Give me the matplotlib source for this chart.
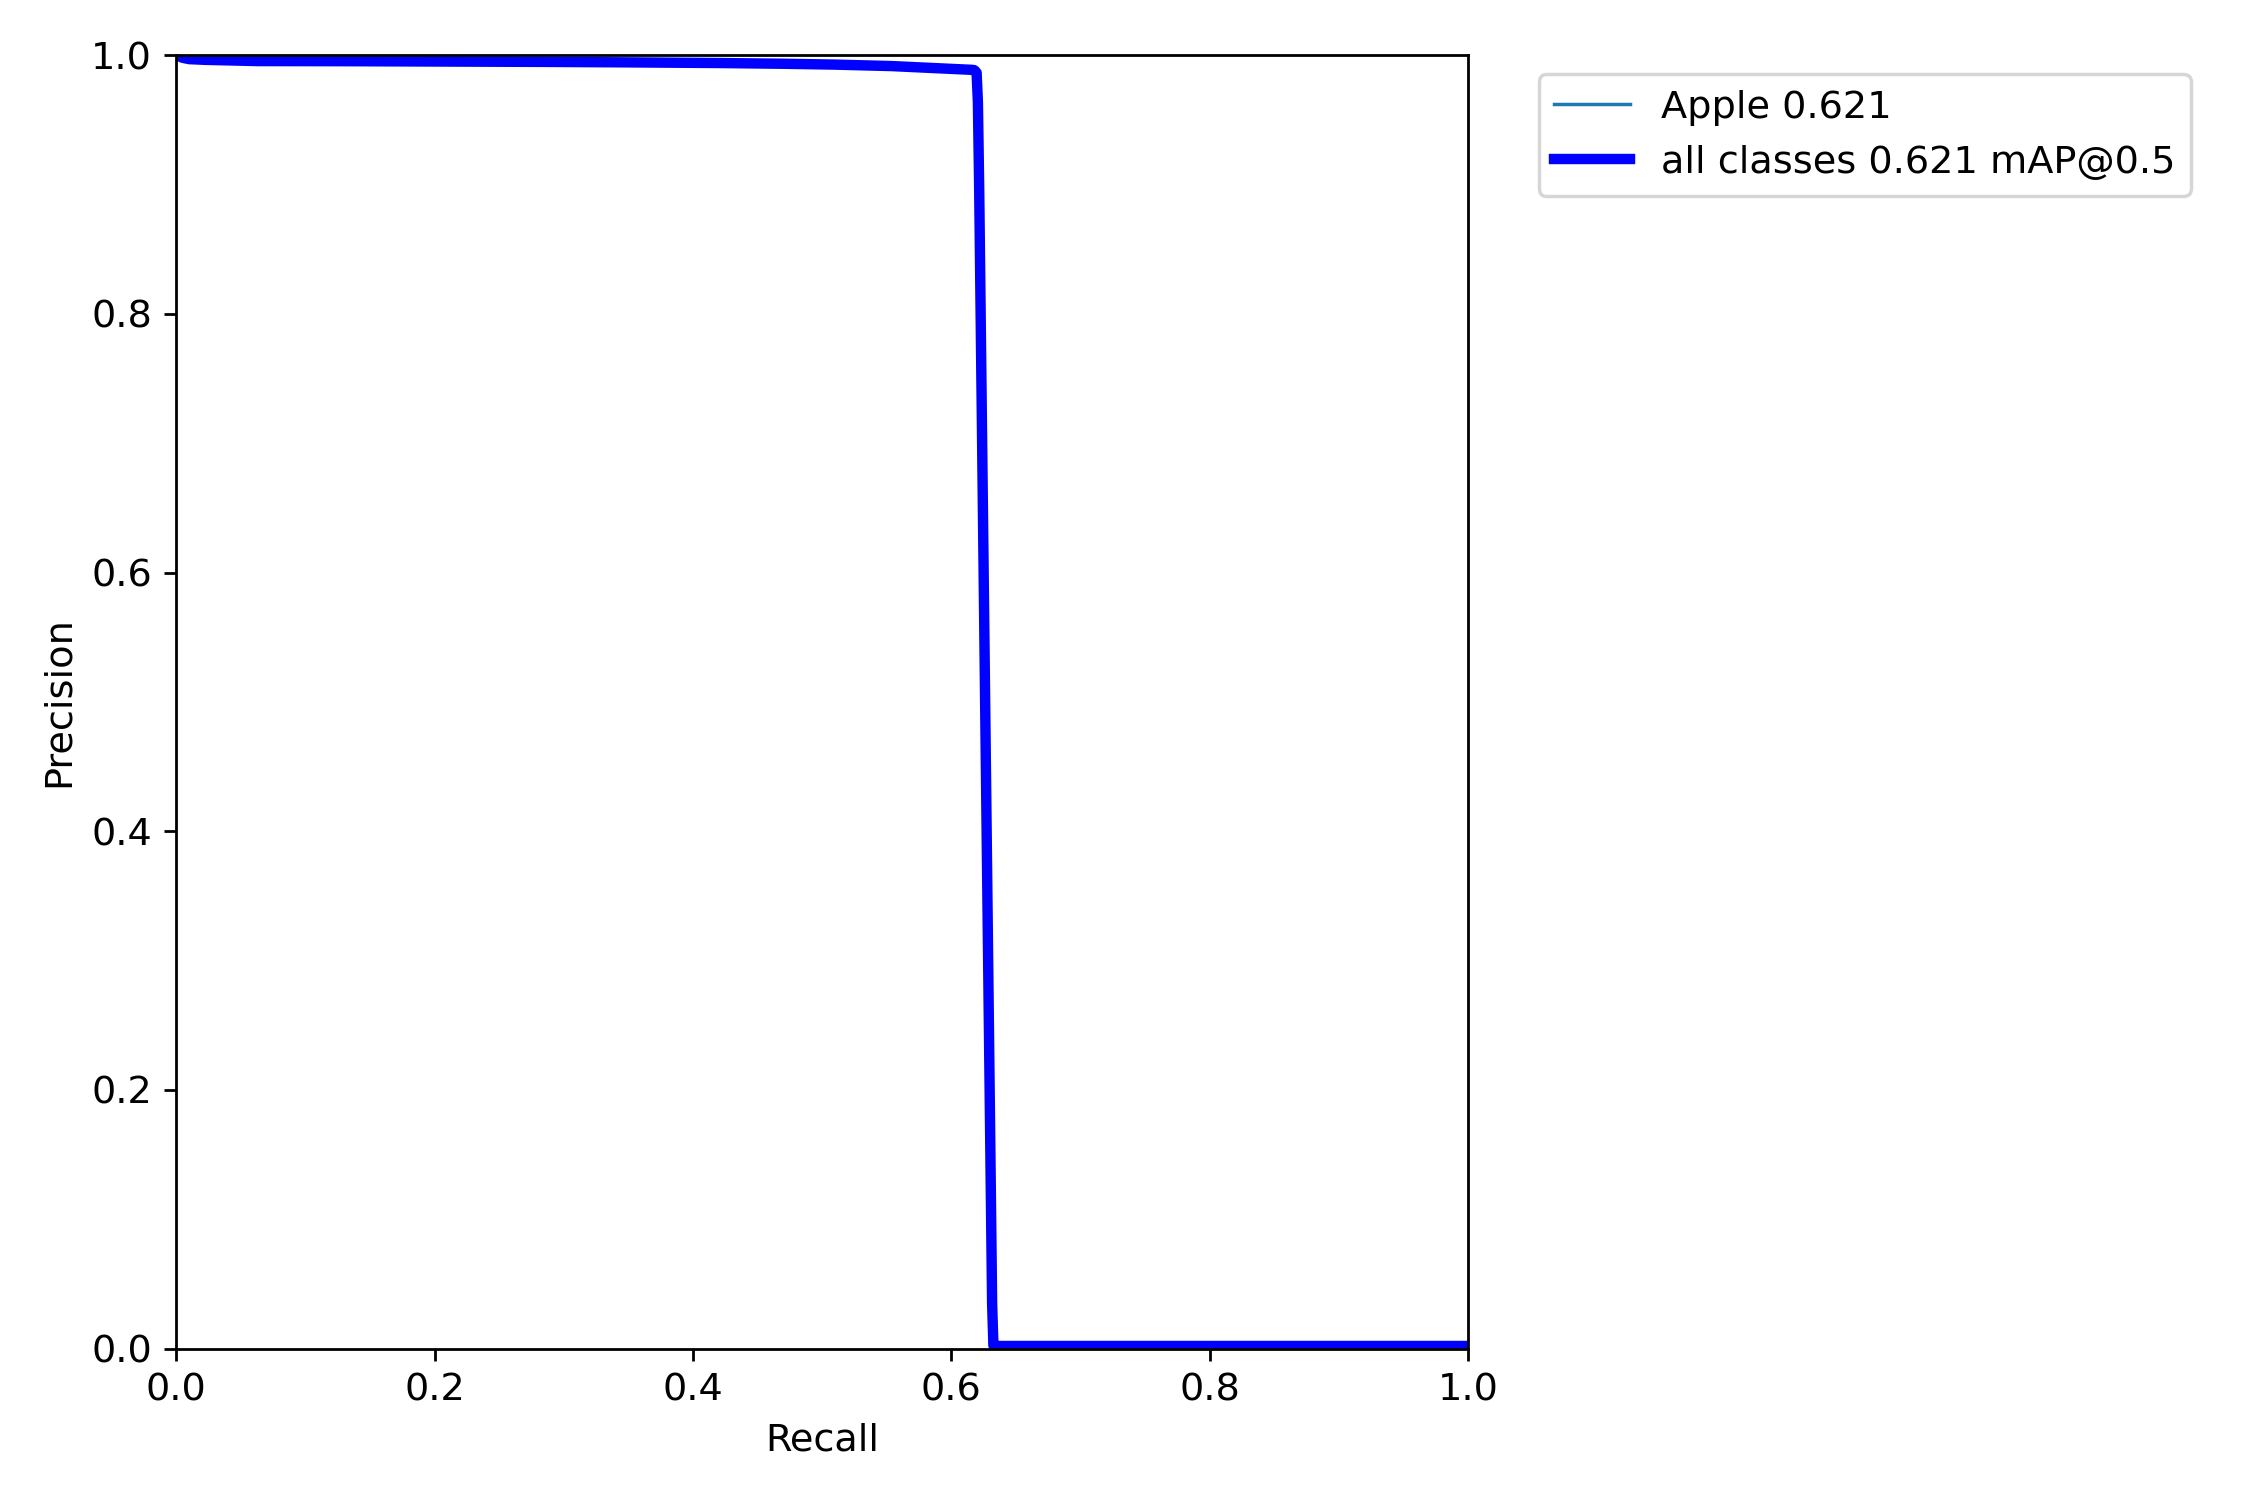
import numpy as np
import matplotlib
matplotlib.use("Agg")
import matplotlib.pyplot as plt

matplotlib.rc("font", size=11)

# PR curve (recall, precision)
recall = [0.0, 0.005, 0.01, 0.02, 0.04, 0.06, 0.1, 0.2, 0.3, 0.4, 0.45, 0.5,
          0.55, 0.6, 0.615, 0.618, 0.620, 0.621, 0.632, 0.633, 1.0]
precision = [1.0, 0.998, 0.997, 0.9965, 0.996, 0.9955, 0.9955, 0.9952, 0.9948,
             0.9942, 0.9937, 0.993, 0.9918, 0.9895, 0.9888, 0.9885, 0.986,
             0.95, 0.003, 0.002, 0.002]

class_names = ["Apple"]
class_ap = [0.621]
map50 = 0.621

px = np.linspace(0, 1, 1000)
py = np.interp(px, recall, precision)

fig, ax = plt.subplots(1, 1, figsize=(9, 6), tight_layout=True)
for name, ap in zip(class_names, class_ap):
    ax.plot(px, py, linewidth=1, label=f"{name} {ap:.3f}")
ax.plot(px, py, linewidth=3, color="blue", label=f"all classes {map50:.3f} mAP@0.5")
ax.set_xlabel("Recall")
ax.set_ylabel("Precision")
ax.set_xlim(0, 1)
ax.set_ylim(0, 1)
ax.legend(bbox_to_anchor=(1.04, 1), loc="upper left")
fig.savefig("out.png", dpi=250)
plt.close(fig)
